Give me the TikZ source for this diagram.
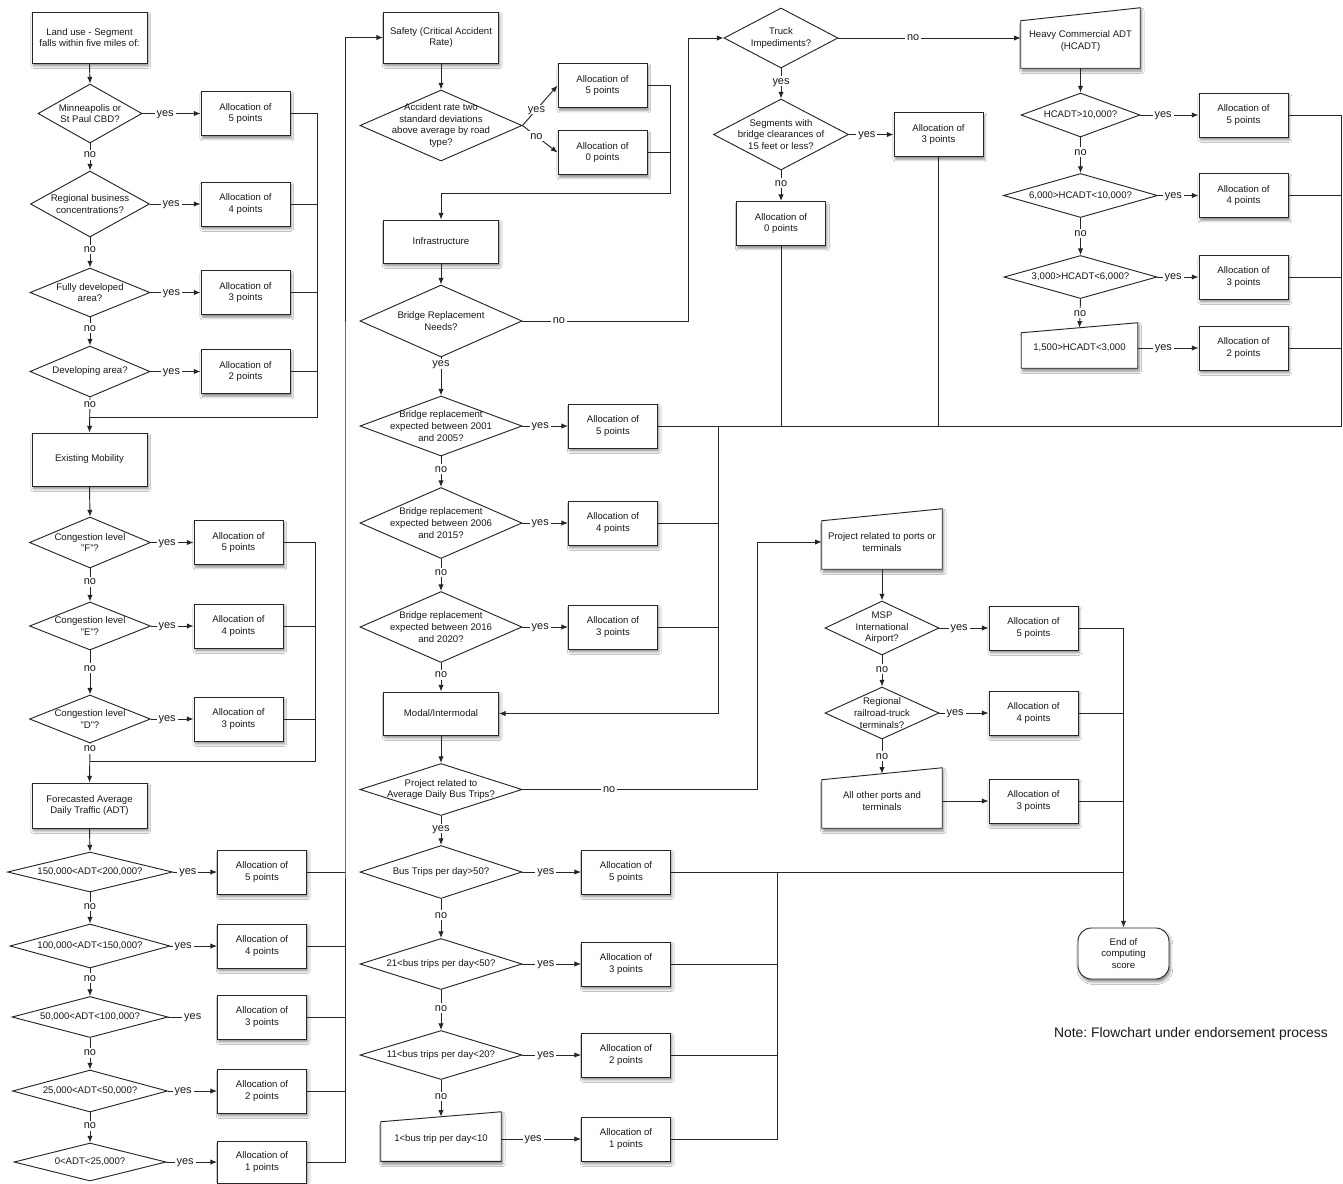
\documentclass[tikz,border=0pt]{standalone}
\usepackage{fontspec}
\setmainfont{Liberation Sans}
\usetikzlibrary{shapes.geometric,arrows.meta,shadows.blur,calc}

\newcommand{\boxfont}{\fontsize{7.2}{8.7}\selectfont}
\newcommand{\ynfont}{\fontsize{8.2}{9}\selectfont}
\frenchspacing

\tikzset{
  wire/.style={line width=0.7pt, draw=black!85},
  arr/.style={wire, -{Latex[length=5pt,width=4pt]}},
  softshadow/.style={blur shadow={shadow xshift=1pt, shadow yshift=-2.2pt, shadow blur radius=1.8pt, shadow opacity=45, shadow blur steps=6}},
  procbox/.style 2 args={rectangle, wire, fill=white, softshadow, minimum width=#1*0.75pt, minimum height=#2*0.75pt, inner sep=1pt, align=center, font=\boxfont, text=black!90},
  alloc/.style={procbox={89}{44}},
  decision/.style 2 args={diamond, wire, fill=white, minimum width=#1*0.75pt, minimum height=#2*0.75pt, inner sep=0pt},
  dtext/.style={align=center, font=\boxfont, inner sep=0pt, text=black!90},
  inputbox/.style 2 args={rectangle, minimum width=#1*0.75pt, minimum height=#2*0.75pt, inner sep=0pt},
  yn/.style={fill=white, inner sep=1.5pt, text depth=0pt, font=\ynfont, text=black!90},
}

% manual-input box: outline with a slanted top edge (slant in px), then its text
\newcommand{\slantbox}[3]{%
  \filldraw[wire, fill=white, softshadow] (#1.south west) -- ([yshift=-#2*0.375pt]#1.north west)
    -- ([yshift=#2*0.375pt]#1.north east) -- (#1.south east) -- cycle;
  \node[dtext] (#1-text) at (#1.center) {#3};}

\begin{document}
\begin{tikzpicture}[x=0.75pt,y=-0.75pt]
\fill[white] (0,0) rectangle (1343,1183);
\useasboundingbox (0,0) rectangle (1343,1183);

% ---------------- Land use ----------------
\node[procbox={115}{51}] (lu) at (89.5,37.5) {Land use - Segment\\falls within five miles of:};
\node[decision={104}{59}, label={[dtext]center:{Minneapolis or\\St Paul CBD?}}] (q1) at (90,113.5) {};
\node[alloc] (la5) at (245.5,113.5) {Allocation of\\5 points};
\node[decision={119}{66}, label={[dtext]center:{Regional business\\concentrations?}}] (q2) at (90,204) {};
\node[alloc] (la4) at (245.5,204) {Allocation of\\4 points};
\node[decision={120}{49}, label={[dtext]center:{Fully developed\\area?}}] (q3) at (90,292.5) {};
\node[alloc] (la3) at (245.5,292.5) {Allocation of\\3 points};
\node[decision={120}{51}, label={[dtext]center:{Developing area?}}] (q4) at (90,371.5) {};
\node[alloc] (la2) at (245.5,371.5) {Allocation of\\2 points};

% ---------------- Existing mobility ----------------
\node[procbox={115}{53}] (mob) at (89.5,459.5) {Existing Mobility};
\node[decision={121}{51}, label={[dtext]center:{Congestion level\\"F"?}}] (cf) at (90,542.5) {};
\node[alloc] (ma5) at (238.5,542.5) {Allocation of\\5 points};
\node[decision={121}{48}, label={[dtext]center:{Congestion level\\"E"?}}] (ce) at (90,626) {};
\node[alloc] (ma4) at (238.5,626) {Allocation of\\4 points};
\node[decision={121}{48}, label={[dtext]center:{Congestion level\\"D"?}}] (cd) at (90,719) {};
\node[alloc] (ma3) at (238.5,719) {Allocation of\\3 points};

% ---------------- Forecasted ADT ----------------
\node[procbox={115}{45}] (fc) at (89.5,805.5) {Forecasted Average\\Daily Traffic (ADT)};
\node[decision={165}{40}, label={[dtext]center:{150,000<ADT<200,000?}}] (ad1) at (90,872) {};
\node[alloc] (aa5) at (262,872) {Allocation of\\5 points};
\node[decision={160}{44}, label={[dtext]center:{100,000<ADT<150,000?}}] (ad2) at (90,946) {};
\node[alloc] (aa4) at (262,946) {Allocation of\\4 points};
\node[decision={156}{41}, label={[dtext]center:{50,000<ADT<100,000?}}] (ad3) at (90,1017) {};
\node[alloc] (aa3) at (262,1017) {Allocation of\\3 points};
\node[decision={155}{42}, label={[dtext]center:{25,000<ADT<50,000?}}] (ad4) at (90,1091) {};
\node[alloc] (aa2) at (262,1091) {Allocation of\\2 points};
\node[decision={152}{38}, label={[dtext]center:{0<ADT<25,000?}}] (ad5) at (90,1162) {};
\node[procbox={89}{42}] (aa1) at (262,1162) {Allocation of\\1 points};

% ---------------- Safety ----------------
\node[procbox={115}{51}] (saf) at (441,37.5) {Safety (Critical Accident\\Rate)};
\node[decision={162}{71}, label={[dtext]center:{Accident rate two\\standard deviations\\above average by road\\type?}}] (sd) at (441,125.5) {};
\node[alloc] (sa5) at (602.5,85.5) {Allocation of\\5 points};
\node[alloc] (sa0) at (602.5,152.5) {Allocation of\\0 points};

% ---------------- Infrastructure ----------------
\node[procbox={115}{43}] (inf) at (441,241.5) {Infrastructure};
\node[decision={162}{72}, label={[dtext]center:{Bridge Replacement\\Needs?}}] (brn) at (441,321) {};
\node[decision={162}{60}, label={[dtext]center:{Bridge replacement\\expected between 2001\\and 2005?}}] (br1) at (441,426) {};
\node[alloc] (ba5) at (613,426) {Allocation of\\5 points};
\node[decision={162}{71}, label={[dtext]center:{Bridge replacement\\expected between 2006\\and 2015?}}] (br2) at (441,523) {};
\node[alloc] (ba4) at (613,523) {Allocation of\\4 points};
\node[decision={162}{71}, label={[dtext]center:{Bridge replacement\\expected between 2016\\and 2020?}}] (br3) at (441,627) {};
\node[alloc] (ba3) at (613,627) {Allocation of\\3 points};

% ---------------- Modal / intermodal ----------------
\node[procbox={115}{43}] (mod) at (441,713.5) {Modal/Intermodal};
\node[decision={162}{52}, label={[dtext]center:{Project related to\\Average Daily Bus Trips?}}] (pdb) at (441,789.5) {};
\node[decision={162}{53}, label={[dtext]center:{Bus Trips per day>50?}}] (bt1) at (441,872) {};
\node[alloc] (bta5) at (626,872) {Allocation of\\5 points};
\node[decision={162}{51}, label={[dtext]center:{21<bus trips per day<50?}}] (bt2) at (441,964) {};
\node[alloc] (bta3) at (626,964) {Allocation of\\3 points};
\node[decision={162}{49}, label={[dtext]center:{11<bus trips per day<20?}}] (bt3) at (441,1055) {};
\node[alloc] (bta2) at (626,1055) {Allocation of\\2 points};
\node[inputbox={120}{44}] (bt4) at (441,1139) {};
\slantbox{bt4}{10}{1<bus trip per day<10}
\node[alloc] (bta1) at (626,1139) {Allocation of\\1 points};

% ---------------- Truck impediments ----------------
\node[decision={114}{60}, label={[dtext]center:{Truck\\Impediments?}}] (tr) at (781,38) {};
\node[decision={135}{71}, label={[dtext]center:{Segments with\\bridge clearances of\\15 feet or less?}}] (sb) at (781,134.5) {};
\node[alloc] (ta3) at (938.5,134.5) {Allocation of\\3 points};
\node[alloc] (ta0) at (781,223.5) {Allocation of\\0 points};

% ---------------- Heavy commercial ADT ----------------
\node[inputbox={119}{53.5}] (hc) at (1080.5,41.25) {};
\slantbox{hc}{13}{Heavy Commercial ADT\\(HCADT)}
\node[decision={119}{44}, label={[dtext]center:{HCADT>10,000?}}] (hd1) at (1080.5,115) {};
\node[alloc] (ha5) at (1243.5,115) {Allocation of\\5 points};
\node[decision={154}{44}, label={[dtext]center:{6,000>HCADT<10,000?}}] (hd2) at (1080.5,195.5) {};
\node[alloc] (ha4) at (1243.5,195.5) {Allocation of\\4 points};
\node[decision={153}{43}, label={[dtext]center:{3,000>HCADT<6,000?}}] (hd3) at (1080.5,277) {};
\node[alloc] (ha3) at (1243.5,277) {Allocation of\\3 points};
\node[inputbox={116}{40}] (hd4) at (1079.5,348) {};
\slantbox{hd4}{10}{1,500>HCADT<3,000}
\node[alloc] (ha2) at (1243.5,348) {Allocation of\\2 points};

% ---------------- Ports and terminals ----------------
\node[inputbox={120}{54}] (pp) at (882,542) {};
\slantbox{pp}{12}{Project related to ports or\\terminals}
\node[decision={114}{54}, label={[dtext]center:{MSP\\International\\Airport?}}] (md) at (882,628) {};
\node[alloc] (pa5) at (1033.5,628) {Allocation of\\5 points};
\node[decision={114}{52}, label={[dtext]center:{Regional\\railroad-truck\\terminals?}}] (rd) at (882,713) {};
\node[alloc] (pa4) at (1033.5,713) {Allocation of\\4 points};
\node[inputbox={120}{54}] (ao) at (882,801) {};
\slantbox{ao}{12}{All other ports and\\terminals}
\node[alloc] (pa3) at (1033.5,801) {Allocation of\\3 points};

\node[procbox={91}{51}, rounded corners=10pt] (end) at (1123.5,953.5) {End of\\computing\\score};

\node[font=\fontsize{10.4}{12}\selectfont, text=black!90, anchor=east, inner sep=0pt] (note) at (1328,1034) {Note: Flowchart under endorsement process};

% ---------------- connectors: land use ----------------
\draw[arr] (lu.south) -- (q1.north);
\draw[arr] (q1.east) -- node[yn,pos=0.39]{yes} (la5.west);
\draw[arr] (q1.south) -- node[yn,pos=0.41]{no} (q2.north);
\draw[arr] (q2.east) -- node[yn,pos=0.42]{yes} (la4.west);
\draw[arr] (q2.south) -- node[yn,pos=0.4]{no} (q3.north);
\draw[arr] (q3.east) -- node[yn,pos=0.42]{yes} (la3.west);
\draw[arr] (q3.south) -- node[yn,pos=0.38]{no} (q4.north);
\draw[arr] (q4.east) -- node[yn,pos=0.42]{yes} (la2.west);
\draw[arr] (q4.south) -- node[yn,pos=0.2]{no} (mob.north);
\coordinate (lbus) at (317,417);
\draw[wire] (la5.east) -| (lbus) -- (lbus -| q4.south);
\draw[wire] (la4.east) -- (la4.east -| lbus);
\draw[wire] (la3.east) -- (la3.east -| lbus);
\draw[wire] (la2.east) -- (la2.east -| lbus);

% ---------------- connectors: mobility ----------------
\draw[arr] (mob.south) -- (cf.north);
\draw[arr] (cf.east) -- node[yn,pos=0.38]{yes} (ma5.west);
\draw[arr] (cf.south) -- node[yn,pos=0.41]{no} (ce.north);
\draw[arr] (ce.east) -- node[yn,pos=0.38]{yes} (ma4.west);
\draw[arr] (ce.south) -- node[yn,pos=0.4]{no} (cd.north);
\draw[arr] (cd.east) -- node[yn,pos=0.38]{yes} (ma3.west);
\draw[arr] (cd.south) -- node[yn,pos=0.13]{no} (fc.north);
\coordinate (mbus) at (315,761);
\draw[wire] (ma5.east) -| (mbus) -- (mbus -| cd.south);
\draw[wire] (ma4.east) -- (ma4.east -| mbus);
\draw[wire] (ma3.east) -- (ma3.east -| mbus);

% ---------------- connectors: ADT ----------------
\draw[arr] (fc.south) -- (ad1.north);
\draw[arr] (ad1.east) -- node[yn,pos=0.34]{yes} (aa5.west);
\draw[arr] (ad1.south) -- node[yn,pos=0.45]{no} (ad2.north);
\draw[arr] (ad2.east) -- node[yn,pos=0.27]{yes} (aa4.west);
\draw[arr] (ad2.south) -- node[yn,pos=0.35]{no} (ad3.north);
\path (ad3.east) -- node[yn,pos=0.5] (y3) {yes} (aa3.west);
\draw[wire] (ad3.east) -- (y3.west);
\draw[arr] (ad3.south) -- node[yn,pos=0.47]{no} (ad4.north);
\draw[arr] (ad4.east) -- node[yn,pos=0.31]{yes} (aa2.west);
\draw[arr] (ad4.south) -- node[yn,pos=0.45]{no} (ad5.north);
\draw[arr] (ad5.east) -- node[yn,pos=0.37]{yes} (aa1.west);
\coordinate (abus) at (345,600);
\draw[arr] (aa1.east) -| (abus) |- (saf.west);
\draw[wire] (aa5.east) -- (aa5.east -| abus);
\draw[wire] (aa4.east) -- (aa4.east -| abus);
\draw[wire] (aa3.east) -- (aa3.east -| abus);
\draw[wire] (aa2.east) -- (aa2.east -| abus);

% ---------------- connectors: safety ----------------
\draw[arr] (saf.south) -- (sd.north);
\draw[arr] (sd.east) -- node[yn,pos=0.4]{yes} (sa5.west);
\draw[arr] (sd.east) -- node[yn,pos=0.4]{no} (sa0.west);
\coordinate (sbus) at (670,193);
\draw[arr] (sa5.east) -| (sbus) -| (inf.north);
\draw[wire] (sa0.east) -- (sa0.east -| sbus);

% ---------------- connectors: infrastructure ----------------
\draw[arr] (inf.south) -- (brn.north);
\coordinate (tbus) at (688,321);
\draw[arr] (brn.east) -- node[yn,pos=0.22]{no} (tbus) |- (tr.west);
\draw[arr] (brn.south) -- node[yn,pos=0.16]{yes} (br1.north);
\draw[arr] (br1.east) -- node[yn,pos=0.39]{yes} (ba5.west);
\draw[arr] (br1.south) -- node[yn,pos=0.42]{no} (br2.north);
\draw[arr] (br2.east) -- node[yn,pos=0.39]{yes} (ba4.west);
\draw[arr] (br2.south) -- node[yn,pos=0.42]{no} (br3.north);
\draw[arr] (br3.east) -- node[yn,pos=0.39]{yes} (ba3.west);
\draw[arr] (br3.south) -- node[yn,pos=0.41]{no} (mod.north);

% ---------------- connectors: truck and HCADT ----------------
\draw[arr] (tr.east) -- node[yn,pos=0.41]{no} (tr.east -| hc.west);
\draw[arr] (tr.south) -- node[yn,pos=0.42]{yes} (sb.north);
\draw[arr] (sb.east) -- node[yn,pos=0.4]{yes} (ta3.west);
\draw[arr] (sb.south) -- node[yn,pos=0.42]{no} (ta0.north);
\draw[arr] (hc.south) -- (hd1.north);
\draw[arr] (hd1.east) -- node[yn,pos=0.39]{yes} (ha5.west);
\draw[arr] (hd1.south) -- node[yn,pos=0.42]{no} (hd2.north);
\draw[arr] (hd2.east) -- node[yn,pos=0.38]{yes} (ha4.west);
\draw[arr] (hd2.south) -- node[yn,pos=0.42]{no} (hd3.north);
\draw[arr] (hd3.east) -- node[yn,pos=0.38]{yes} (ha3.west);
\draw[arr] (hd3.south) -- node[yn,pos=0.5]{no} (hd4.north);
\draw[arr] (hd4.east) -- node[yn,pos=0.42]{yes} (ha2.west);
\coordinate (hbus) at (1341,426);
\coordinate (cbus) at (718,426);
\draw[arr] (ha5.east) -| (hbus) -- (cbus) |- (mod.east);
\draw[wire] (ha4.east) -- (ha4.east -| hbus);
\draw[wire] (ha3.east) -- (ha3.east -| hbus);
\draw[wire] (ha2.east) -- (ha2.east -| hbus);
\draw[wire] (ta0.south) -- (ta0.south |- hbus);
\draw[wire] (ta3.south) -- (ta3.south |- hbus);
\draw[wire] (ba5.east) -- (ba5.east -| cbus);
\draw[wire] (ba4.east) -- (ba4.east -| cbus);
\draw[wire] (ba3.east) -- (ba3.east -| cbus);

% ---------------- connectors: modal ----------------
\draw[arr] (mod.south) -- (pdb.north);
\coordinate (pbus) at (757,789.5);
\draw[arr] (pdb.east) -- node[yn,pos=0.37]{no} (pbus) |- (pp.west);
\draw[arr] (pdb.south) -- node[yn,pos=0.43]{yes} (bt1.north);
\draw[arr] (bt1.east) -- node[yn,pos=0.4]{yes} (bta5.west);
\draw[arr] (bt1.south) -- node[yn,pos=0.42]{no} (bt2.north);
\draw[arr] (bt2.east) -- node[yn,pos=0.4]{yes} (bta3.west);
\draw[arr] (bt2.south) -- node[yn,pos=0.46]{no} (bt3.north);
\draw[arr] (bt3.east) -- node[yn,pos=0.4]{yes} (bta2.west);
\draw[arr] (bt3.south) -- node[yn,pos=0.45]{no} (bt4.north);
\draw[arr] (bt4.east) -- node[yn,pos=0.4]{yes} (bta1.west);
\coordinate (bbus) at (777,872);
\draw[wire] (bta1.east) -| (bbus);
\draw[wire] (bta3.east) -- (bta3.east -| bbus);
\draw[wire] (bta2.east) -- (bta2.east -| bbus);
\draw[wire] (bta5.east) -- (bta5.east -| end.north);

% ---------------- connectors: ports ----------------
\draw[arr] (pp.south) -- (md.north);
\draw[arr] (md.east) -- node[yn,pos=0.4]{yes} (pa5.west);
\draw[arr] (md.south) -- node[yn,pos=0.44]{no} (rd.north);
\draw[arr] (rd.east) -- node[yn,pos=0.32]{yes} (pa4.west);
\draw[arr] (rd.south) -- node[yn,pos=0.49]{no} (ao.north);
\draw[arr] (ao.east) -- (pa3.west);
\draw[arr] (pa5.east) -| (end.north);
\draw[wire] (pa4.east) -- (pa4.east -| end.north);
\draw[wire] (pa3.east) -- (pa3.east -| end.north);
\end{tikzpicture}
\end{document}
